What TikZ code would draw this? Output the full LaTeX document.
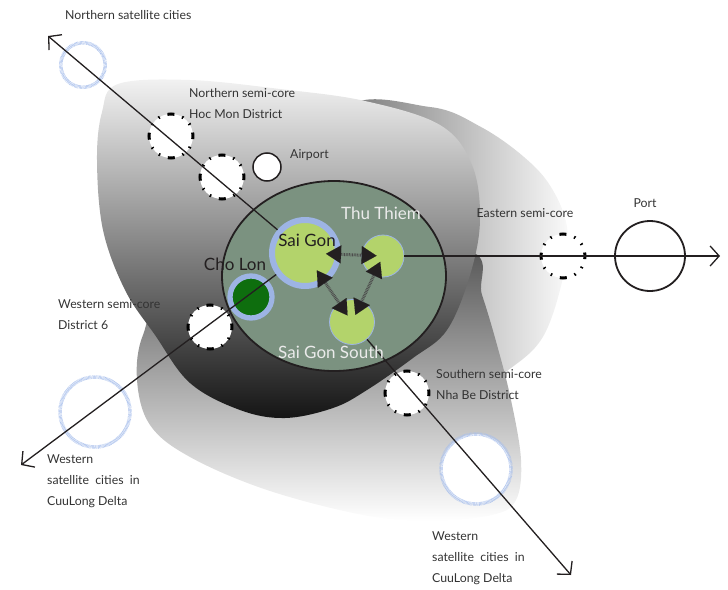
\documentclass[tikz,border=0pt]{standalone}
\usepackage{fontspec}
\setmainfont{Lato}
\usetikzlibrary{arrows.meta}
\definecolor{ink}{HTML}{231F20}
\definecolor{txt}{HTML}{333333}
\definecolor{coregreen}{HTML}{7B9280}
\definecolor{lime}{HTML}{B3D36B}
\definecolor{ringblue}{HTML}{9DB4E4}
\definecolor{satblue}{HTML}{A9C0EC}
\definecolor{darkgreen}{HTML}{0E6E0E}

\begin{document}
\begin{tikzpicture}[x=1pt,y=-1pt,
    semicore/.style={circle,draw=black,fill=white,line width=3pt,minimum size=44pt,inner sep=0pt,
      dash pattern=on 7pt off 8.2pt on 1.5pt off 8.2pt on 1.5pt off 8.2pt,dash phase=3.5pt},
    satellite/.style={circle,draw=satblue,fill=white,line width=3.5pt,inner sep=0pt,
      dash pattern=on 0.5pt off 0.7pt},
    plain/.style={circle,draw=ink,fill=white,line width=1.5pt,inner sep=0pt},
    core/.style={circle,fill=lime,draw=ringblue,line width=0.8pt,inner sep=0pt},
    axis/.style={draw=ink,line width=1.3pt,-{Straight Barb[length=9pt,width=20pt]}},
    link/.style={draw=black!70,line width=3pt,dash pattern=on 0.8pt off 0.8pt,
      {Triangle[length=15pt,width=18pt,line width=0.1pt,fill=ink,color=ink]}-{Triangle[length=15pt,width=18pt,line width=0.1pt,fill=ink,color=ink]},
      shorten <=-15pt,shorten >=-15pt},
    lbl/.style={font=\fontsize{12.3}{21}\selectfont,text=txt,align=left,inner sep=0pt,anchor=west},
    corelbl/.style={font=\fontsize{17}{20}\selectfont,inner sep=0pt}]
  \useasboundingbox (0,0) rectangle (728,589);

  %BLOBS
  \shade[left color=black!55,right color=black!2]
    plot[smooth cycle,tension=0.6] coordinates {(345,112) (430,107) (481,127) (524,157) (551,187)
      (567,227) (564,273) (544,335) (511,368) (470,390) (400,380) (350,250)};
  \shade[top color=black!67,bottom color=white]
    plot[smooth cycle,tension=0.6] coordinates {(465,250) (482,295) (497,345) (511,400) (521,460)
      (516,500) (492,515) (430,521) (363,515) (267,490) (190,457) (150,425) (137,380) (143,335)
      (170,300) (300,260)};
  \shade[top color=black!5,middle color=black!42,bottom color=black!92]
    plot[smooth cycle,tension=0.6] coordinates {(118,84) (190,80) (280,89) (365,101) (440,125)
      (472,165) (480,220) (470,275) (447,330) (413,358) (367,390) (333,408) (285,418) (240,410)
      (190,383) (155,335) (125,290) (103,230) (97,160) (102,112)};

  %CORE AREA
  \draw[ink,line width=1.8pt,fill=coregreen] (334,276) ellipse [x radius=112pt,y radius=95pt];

  %SATELLITES
  \node[satellite,minimum size=44.5pt] (nsat) at (83,65) {};
  \node[satellite,minimum size=70pt] (wsat) at (95,412) {};
  \node[satellite,minimum size=70pt] (ssat) at (476,469) {};

  %SEMI-CORES
  \node[semicore] (nsemi1) at (171,136) {};
  \node[semicore] (nsemi2) at (222,177) {};
  \node[semicore] (wsemi) at (210,327) {};
  \node[semicore] (esemi) at (563,256) {};
  \node[semicore] (ssemi) at (407,393) {};
  \node[plain,minimum size=28pt] (airport) at (267,167) {};
  \node[plain,line width=1.8pt,minimum size=70pt] (port) at (650,256) {};

  %CORES
  \node[core,draw=ringblue,line width=6pt,minimum size=66pt] (saigon) at (305,253) {};
  \node[core,minimum size=42pt] (thuthiem) at (383,256) {};
  \node[core,minimum size=45pt] (sgsouth) at (352,322) {};
  \node[circle,fill=darkgreen,draw=ringblue,line width=5.3pt,inner sep=0pt,minimum size=42pt] (cholon) at (251,297) {};

  %AXES
  \coordinate (nwend) at (48,36);
  \coordinate (wend) at (21,465);
  \coordinate (eend) at (720,256);
  \coordinate (seend) at (571,575);
  \draw[axis] (saigon) -- (nwend);
  \draw[axis] (saigon) -- (wend);
  \draw[axis] (thuthiem) -- (eend);
  \draw[axis] (sgsouth) -- (seend);

  %LINKS
  \draw[link] (saigon) -- (thuthiem);
  \draw[link] (saigon) -- (sgsouth);
  \draw[link] (thuthiem) -- (sgsouth);

  %CORE LABELS
  \node[corelbl,text=ink] (saigonlbl) at (307,240) {Sai Gon};
  \node[corelbl,text=ink] (cholonlbl) at (235,264) {Cho Lon};
  \node[corelbl,text=white!92!black] (thuthiemlbl) at (381,213) {Thu Thiem};
  \node[corelbl,text=white!92!black] (sgsouthlbl) at (331,352) {Sai Gon South};

  %LABELS
  \node[lbl] (nsatlbl) at (65,15) {Northern satellite cities};
  \node[lbl] (nsemilbl) at (189,103.5) {Northern semi-core\\Hoc Mon District};
  \node[lbl] (airportlbl) at (290,155) {Airport};
  \node[lbl,anchor=center] (esemilbl) at (525,213) {Eastern semi-core};
  \node[lbl,anchor=center] (portlbl) at (645,203) {Port};
  \node[lbl] (wsemilbl) at (58,314.5) {Western semi-core\\District 6};
  \node[lbl] (ssemilbl) at (436,384.5) {Southern semi-core\\Nha Be District};
  \node[lbl] (wsatlbl) at (47,481) {Western\\satellite\ \ cities\ \ in\\CuuLong Delta};
  \node[lbl] (ssatlbl) at (432,558.5) {Western\\satellite\ \ cities\ \ in\\CuuLong Delta};
\end{tikzpicture}
\end{document}
